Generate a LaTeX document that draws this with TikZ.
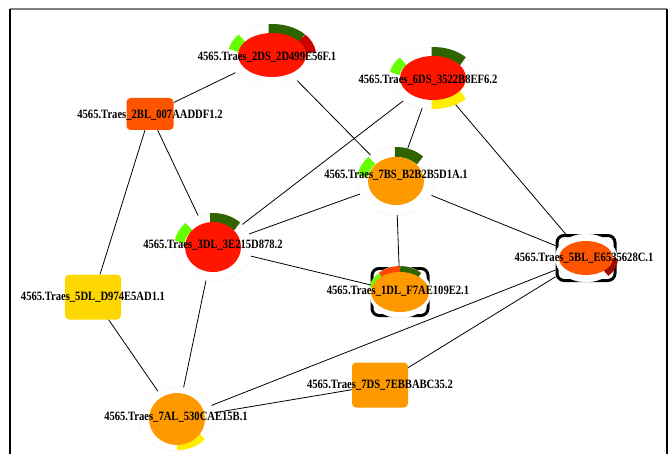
\documentclass[tikz,border=0pt]{standalone}
\usepackage{fontspec}
\setmainfont{Liberation Serif}
\usetikzlibrary{shapes,calc}
\definecolor{darkleaf}{HTML}{2F6500}
\definecolor{lightleaf}{HTML}{66FF00}
\definecolor{genered}{HTML}{FF1500}
\definecolor{geneorange}{HTML}{FF9900}
\definecolor{genevermil}{HTML}{FF5500}
\definecolor{genegold}{HTML}{FFD700}
\definecolor{geneyellow}{HTML}{FFEE00}
\definecolor{deepred}{HTML}{D00000}
\definecolor{maroonred}{HTML}{9A0A00}
\definecolor{flamered}{HTML}{FF4500}
\tikzstyle{ring}=[ellipse,fill=white,draw=black!5,inner sep=0pt]
\tikzstyle{core}=[ellipse,inner sep=0pt]
\tikzstyle{genebox}=[rectangle,rounded corners=4pt,inner sep=0pt]
\tikzstyle{selbox}=[rectangle,rounded corners=7pt,draw=black,line width=3pt,inner sep=0pt]
\tikzstyle{link}=[draw,line width=0.8pt]
\tikzstyle{tag}=[font=\bfseries\fontsize{10.6}{12}\selectfont,inner sep=0pt]

\begin{document}
\begin{tikzpicture}[x=1pt,y=1pt]
\useasboundingbox (0,0) rectangle (671,-454);
% frame
\draw[black!50,line width=2pt] (10,-9) -- (667,-9);
\draw[line width=1.6pt] (10,-9) -- (10,-454);
\draw[line width=1.6pt] (667,-9) -- (667,-454);

% selected genes
\foreach \pos/\name/\w/\h in {{(400,-292)/1DL/56/47}, {(586,-258)/5BL/58/45}}
    \node[selbox,minimum width=\w,minimum height=\h] (\name) at \pos {};
\foreach \name/\rx/\ry in {1DL/31/26, 5BL/31/24}
    \node[ring,minimum width=2*\rx,minimum height=2*\ry] (\name-ring) at (\name.center) {};

% rings
\foreach \pos/\name/\rx/\ry in {{(272,-55)/2DS/44/31}, {(433,-78)/6DS/44/31}, {(396,-181)/7BS/39/34}, {(213,-247)/3DL/39/34}, {(177,-419)/7AL/38/32}}
    \node[ring,minimum width=2*\rx,minimum height=2*\ry] (\name) at \pos {};

\foreach \name/\ax/\ay/\from/\to/\col in {2DS/39/26/40/95/darkleaf, 2DS/39/26/5/40/deepred, 2DS/39/26/140/170/lightleaf,
        6DS/39/26/40/92/darkleaf, 6DS/39/26/140/170/lightleaf, 6DS/39/26/-92/-40/geneyellow,
        7BS/34/29/45/92/darkleaf, 7BS/34/29/135/170/lightleaf,
        3DL/34/29/45/95/darkleaf, 3DL/34/29/135/170/lightleaf,
        1DL/26/21/45/90/darkleaf, 1DL/26/21/90/135/flamered, 1DL/26/21/135/170/lightleaf,
        5BL/27/20/-45/0/maroonred, 7AL/32/26/-90/-40/geneyellow}
    \draw[line width=10pt,\col] (\name.center) ++({\ax*cos(\from)},{\ay*sin(\from)}) arc[start angle=\from,end angle=\to,x radius=\ax,y radius=\ay];

\foreach \name/\rx/\ry/\col in {2DS/34/22/genered, 6DS/33/22/genered, 7BS/28/24/geneorange, 3DL/28/25/genered,
        1DL/29/20/geneorange, 5BL/27/17/genevermil, 7AL/28/26/geneorange}
    \node[core,fill=\col,minimum width=2*\rx,minimum height=2*\ry] (\name-core) at (\name.center) {};

\foreach \pos/\name/\w/\h/\col in {{(150,-114)/2BL/47/32/genevermil}, {(93,-297)/5DL/56/45/genegold}, {(380,-385)/7DS/56/45/geneorange}}
    \node[genebox,fill=\col,minimum width=\w,minimum height=\h] (\name) at \pos {};

\foreach \source/\dest in {2BL/2DS, 2DS/7BS, 6DS/7BS, 6DS/3DL, 6DS/5BL, 2BL/3DL, 2BL/5DL, 7BS/3DL,
        7BS/1DL, 7BS/5BL, 3DL/1DL, 3DL/7AL, 5DL/7AL, 5BL/7AL, 5BL/7DS, 7AL/7DS}
    \path[link] (\source) -- (\dest);

% labels
\foreach \pos/\name/\id in {{(267,-57)/2DS/2D499E56F.1}, {(428,-80)/6DS/3522B8EF6.2}, {(150,-115)/2BL/007AADDF1.2},
        {(396,-175)/7BS/B2B2B5D1A.1}, {(213,-245)/3DL/3E215D878.2}, {(398,-291)/1DL/F7AE109E2.1},
        {(584,-258)/5BL/E6535628C.1}, {(93,-297)/5DL/D974E5AD1.1}, {(380,-385)/7DS/7EBBABC35.2},
        {(176,-417)/7AL/530CAE15B.1}}
    \node[tag] (\name-tag) at \pos {\scalebox{1}[1.2]{4565.Traes\_\name\_\id}};
\end{tikzpicture}
\end{document}
